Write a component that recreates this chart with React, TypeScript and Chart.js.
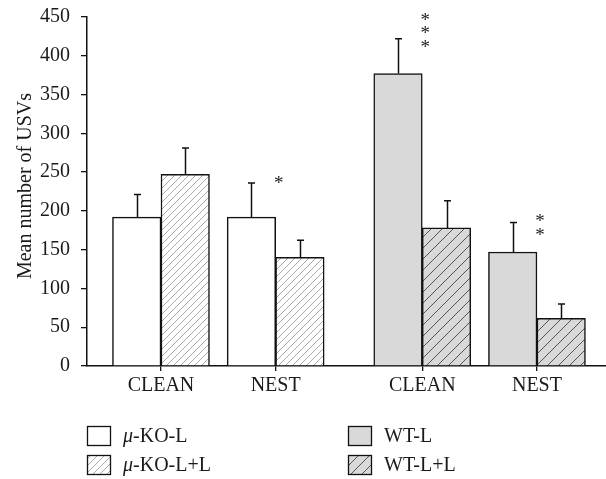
import React, { useEffect, useRef } from "react";
import { Chart, registerables } from "chart.js";

Chart.register(...registerables);

// ---------- data ----------
const categories = ["CLEAN", "NEST", "CLEAN", "NEST"];
const seriesNames = ["μ-KO-L", "μ-KO-L+L", "WT-L", "WT-L+L"];
const yTitle = "Mean number of USVs";

const koL = [192, 192];
const koLErr = [29, 44];
const koLL = [247, 140];
const koLLErr = [34, 22];
const wtL = [377, 147];
const wtLErr = [45, 38];
const wtLL = [178, 61.5];
const wtLLErr = [35, 18.5];

// significance marks per category group and the value at which the lowest star sits
const significance = ["", "*", "***", "**"];
const significanceAt = [0, 240, 416, 174];

const yMin = 0;
const yMax = 450;
const yStep = 50;

// ---------- layout / style ----------
const FONT = '"Liberation Serif", "Times New Roman", serif';
const GROUP_GAP = 0.278; // extra space between the μ-KO and WT blocks (category units)
const groupPos = (i: number) => i + (i >= 2 ? GROUP_GAP : 0);
const INK = "#111";
const TEXT = "#1a1a1a";
const FS = 20;

function makeHatch(bg: string, line: string, spacing: number, lw: number) {
  const c = document.createElement("canvas");
  c.width = spacing;
  c.height = spacing;
  const g = c.getContext("2d")!;
  g.fillStyle = bg;
  g.fillRect(0, 0, spacing, spacing);
  g.strokeStyle = line;
  g.lineWidth = lw;
  g.beginPath();
  g.moveTo(-1, spacing + 1);
  g.lineTo(spacing + 1, -1);
  g.moveTo(-1, 1);
  g.lineTo(1, -1);
  g.moveTo(spacing - 1, spacing + 1);
  g.lineTo(spacing + 1, spacing - 1);
  g.stroke();
  return g.createPattern(c, "repeat")!;
}

export default function App() {
  const ref = useRef<HTMLCanvasElement | null>(null);

  useEffect(() => {
    if (!ref.current) return;
    const koHatch = makeHatch("#ffffff", "#a8a8a8", 7, 1);
    const wtHatch = makeHatch("#d9d9d9", "#555555", 11, 1);

    const fills = ["#ffffff", koHatch, "#d9d9d9", wtHatch];
    const errs = [koLErr, koLLErr, wtLErr, wtLLErr];

    const datasets = [
      { label: seriesNames[0], data: koL.map((v, j) => ({ x: groupPos(j), y: v })), stack: "plain", backgroundColor: fills[0] },
      { label: seriesNames[1], data: koLL.map((v, j) => ({ x: groupPos(j), y: v })), stack: "hatch", backgroundColor: fills[1] },
      { label: seriesNames[2], data: wtL.map((v, j) => ({ x: groupPos(j + 2), y: v })), stack: "plain", backgroundColor: fills[2] },
      { label: seriesNames[3], data: wtLL.map((v, j) => ({ x: groupPos(j + 2), y: v })), stack: "hatch", backgroundColor: fills[3] },
    ].map((d) => ({
      ...d,
      borderColor: INK,
      borderWidth: 1.5,
      barThickness: 48.5,
    }));

    const errorBars = {
      id: "errorBars",
      afterDatasetsDraw(chart: any) {
        const ctx = chart.ctx;
        const ys = chart.scales.y;
        ctx.save();
        ctx.strokeStyle = INK;
        ctx.lineWidth = 1.5;
        chart.data.datasets.forEach((ds: any, i: number) => {
          const meta = chart.getDatasetMeta(i);
          meta.data.forEach((el: any, j: number) => {
            const v = ds.data[j].y;
            const top = ys.getPixelForValue(v + errs[i][j]);
            const x = Math.round(el.x) + 0.5;
            ctx.beginPath();
            ctx.moveTo(x, el.y);
            ctx.lineTo(x, top);
            ctx.moveTo(x - 3.5, top);
            ctx.lineTo(x + 3.5, top);
            ctx.stroke();
          });
        });
        // significance stars
        ctx.fillStyle = "#222";
        ctx.font = `19px ${FONT}`;
        ctx.textAlign = "center";
        ctx.textBaseline = "alphabetic";
        const m = ctx.measureText("*");
        const off = (m.actualBoundingBoxAscent - m.actualBoundingBoxDescent) / 2;
        significance.forEach((s, i) => {
          if (!s) return;
          const cx = chart.scales.x.getPixelForValue(groupPos(i)) + 3;
          const cy = ys.getPixelForValue(significanceAt[i]);
          for (let k = 0; k < s.length; k++) {
            ctx.fillText("*", cx, cy - k * 13.5 + off);
          }
        });
        ctx.restore();
      },
    };

    const textPlugin = {
      id: "customLegendAndTitle",
      afterDraw(chart: any) {
        const ctx = chart.ctx;
        ctx.save();
        // y-axis title
        ctx.fillStyle = TEXT;
        ctx.font = `${FS}px ${FONT}`;
        ctx.textAlign = "center";
        ctx.textBaseline = "middle";
        ctx.translate(26, 186);
        ctx.rotate(-Math.PI / 2);
        ctx.fillText(yTitle, 0, 0);
        ctx.restore();

        ctx.save();
        const cols = [87, 348];
        const rows = [426, 455];
        const order = [
          [0, 0],
          [1, 0],
          [0, 1],
          [1, 1],
        ];
        seriesNames.forEach((name, i) => {
          const [r, c] = order[i];
          const bx = cols[c];
          const by = rows[r];
          ctx.fillStyle = fills[i];
          ctx.fillRect(bx, by, 24, 20);
          ctx.strokeStyle = INK;
          ctx.lineWidth = 1.3;
          ctx.strokeRect(bx + 0.5, by + 0.5, 23, 19);
          ctx.fillStyle = TEXT;
          ctx.textBaseline = "middle";
          ctx.textAlign = "left";
          let tx = bx + 36;
          const ty = by + 11;
          let rest = name;
          if (name.startsWith("μ")) {
            ctx.font = `italic ${FS}px ${FONT}`;
            ctx.fillText("μ", tx, ty);
            tx += ctx.measureText("μ").width;
            rest = name.slice(1);
          }
          ctx.font = `${FS}px ${FONT}`;
          ctx.fillText(rest, tx, ty);
        });
        ctx.restore();
      },
    };

    const chart = new Chart(ref.current, {
      type: "bar",
      data: { datasets: datasets as any },
      options: {
        animation: false,
        responsive: true,
        maintainAspectRatio: false,
        layout: { padding: { top: 17, left: 0, right: 0, bottom: 0 } },
        plugins: {
          legend: { display: false },
          tooltip: { enabled: false },
        },
        scales: {
          x: {
            type: "linear",
            min: -0.645,
            max: 3.88,
            offset: false,
            afterBuildTicks: (scale: any) => {
              scale.ticks = categories.map((_, i) => ({ value: groupPos(i) }));
            },
            afterFit: (scale: any) => {
              scale.height = 113;
              scale.paddingLeft = 0;
              scale.paddingRight = 0;
            },
            grid: {
              display: true,
              offset: false,
              drawOnChartArea: false,
              drawTicks: true,
              tickLength: 5,
              color: INK,
              lineWidth: 1.3,
            },
            border: { display: true, color: INK, width: 1.5 },
            ticks: {
              autoSkip: false,
              maxRotation: 0,
              padding: 3,
              color: TEXT,
              font: { family: FONT, size: FS },
              callback: (_v: any, i: number) => categories[i],
            },
          },
          y: {
            min: yMin,
            max: yMax,
            afterFit: (scale: any) => {
              scale.width = 87;
              scale.paddingTop = 0;
              scale.paddingBottom = 0;
            },
            grid: {
              display: true,
              drawOnChartArea: false,
              drawTicks: true,
              tickLength: 6,
              color: INK,
              lineWidth: 1.3,
            },
            border: { display: true, color: INK, width: 1.5 },
            ticks: {
              stepSize: yStep,
              padding: 11,
              color: TEXT,
              font: { family: FONT, size: FS },
            },
          },
        },
      } as any,
      plugins: [errorBars, textPlugin],
    });
    return () => chart.destroy();
  }, []);

  return (
    <div style={{ position: "absolute", left: 0, top: 0, width: 606, height: 479, background: "#fff" }}>
      <canvas ref={ref} />
    </div>
  );
}
